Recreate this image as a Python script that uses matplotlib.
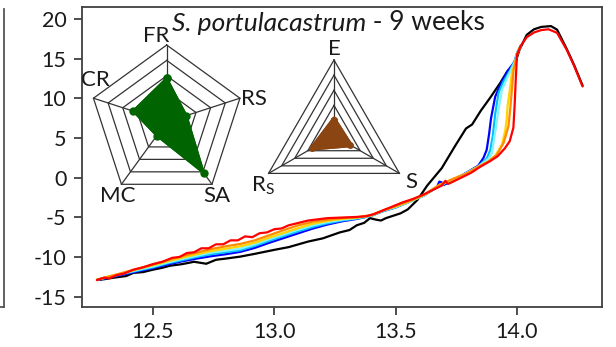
import matplotlib
matplotlib.use('Agg')
import matplotlib.pyplot as plt
import numpy as np
from matplotlib.lines import Line2D

plt.rcParams['font.family'] = ['Lato', 'DejaVu Sans']
plt.rcParams['axes.unicode_minus'] = False
plt.rcParams['mathtext.fontset'] = 'custom'
plt.rcParams['mathtext.rm'] = 'Lato'
plt.rcParams['mathtext.it'] = 'Lato:italic'

# ---------------- data ----------------
black_x = [12.27, 12.30, 12.34, 12.39, 12.42, 12.46, 12.50, 12.54, 12.57, 12.62, 12.67, 12.70, 12.72, 12.74,
           12.76, 12.80, 12.86, 12.92, 13.00, 13.06, 13.14, 13.20, 13.27, 13.31, 13.34, 13.37, 13.395, 13.42,
           13.44, 13.46, 13.48, 13.52, 13.55, 13.59, 13.63, 13.69, 13.745, 13.79, 13.815, 13.85, 13.89, 13.93,
           13.96, 13.99, 14.01, 14.04, 14.07, 14.10, 14.14, 14.165, 14.205, 14.235, 14.27]
black_y = [-12.9, -12.8, -12.6, -12.4, -12.0, -11.9, -11.6, -11.35, -11.1, -10.9, -10.6, -10.75, -10.85, -10.6,
           -10.35, -10.2, -9.95, -9.6, -9.1, -8.75, -8.05, -7.65, -6.9, -6.6, -6.0, -5.7, -5.1, -5.3,
           -5.4, -5.1, -4.9, -4.5, -4.0, -2.8, -1.0, 1.2, 4.0, 6.2, 6.7, 8.4, 10.1, 11.9,
           13.4, 14.2, 16.1, 18.0, 18.7, 19.0, 19.1, 18.65, 16.2, 14.2, 11.6]

blue_x = [12.27, 12.32, 12.38, 12.44, 12.50, 12.56, 12.62, 12.68, 12.74, 12.80, 12.86, 12.92, 12.98, 13.04,
          13.10, 13.16, 13.22, 13.28, 13.34, 13.40, 13.45, 13.50, 13.56, 13.62, 13.67, 13.68, 13.69, 13.70,
          13.74, 13.79, 13.84, 13.862, 13.875, 13.885, 13.893, 13.91, 13.93, 13.96, 13.99, 14.0, 14.015]
blue_y = [-12.9, -12.6, -12.2, -11.8, -11.4, -10.95, -10.55, -10.2, -9.9, -9.65, -9.35, -8.85, -8.2, -7.6,
          -7.0, -6.4, -5.9, -5.5, -5.2, -4.8, -4.2, -3.75, -3.0, -2.2, -1.2, -0.5, -0.6, -0.9,
          -0.3, 0.6, 1.5, 2.5, 3.5, 5.5, 7.5, 10.2, 11.6, 13.4, 14.6, 15.7, 16.6]

cyan_x = [12.27, 12.32, 12.38, 12.44, 12.50, 12.56, 12.62, 12.68, 12.74, 12.80, 12.86, 12.92, 12.98, 13.04,
          13.10, 13.16, 13.22, 13.28, 13.34, 13.40, 13.45, 13.50, 13.56, 13.62, 13.68, 13.74, 13.79, 13.84,
          13.876, 13.89, 13.90, 13.91, 13.924, 13.944, 13.973, 13.993, 14.0, 14.015]
cyan_y = [-12.85, -12.55, -12.1, -11.7, -11.3, -10.8, -10.4, -10.0, -9.65, -9.4, -9.15, -8.6, -7.95, -7.35,
          -6.75, -6.2, -5.75, -5.4, -5.15, -4.8, -4.2, -3.75, -3.0, -2.2, -1.0, -0.2, 0.55, 1.4,
          2.45, 3.5, 5.2, 8.0, 10.7, 12.1, 13.6, 14.9, 15.7, 16.6]

lcyan_x = [12.27, 12.32, 12.38, 12.44, 12.50, 12.56, 12.62, 12.68, 12.74, 12.80, 12.86, 12.92, 12.98, 13.04,
           13.10, 13.16, 13.22, 13.28, 13.34, 13.40, 13.45, 13.50, 13.56, 13.62, 13.68, 13.74, 13.79, 13.84,
           13.883, 13.897, 13.905, 13.914, 13.925, 13.938, 13.964, 13.993, 14.0, 14.015]
lcyan_y = [-12.85, -12.5, -12.05, -11.6, -11.2, -10.7, -10.25, -9.85, -9.45, -9.2, -8.95, -8.4, -7.75, -7.15,
           -6.55, -6.0, -5.6, -5.3, -5.1, -4.8, -4.15, -3.7, -3.0, -2.2, -1.0, -0.2, 0.55, 1.4,
           2.4, 3.1, 4.8, 6.5, 8.8, 11.1, 12.9, 14.7, 15.7, 16.6]

yellow_x = [12.27, 12.32, 12.38, 12.44, 12.50, 12.56, 12.62, 12.68, 12.74, 12.80, 12.86, 12.92, 12.98, 13.04,
            13.10, 13.16, 13.22, 13.28, 13.34, 13.40, 13.45, 13.50, 13.56, 13.62, 13.68, 13.74, 13.79, 13.84,
            13.88, 13.911, 13.938, 13.952, 13.958, 13.961, 13.970, 13.979, 13.993, 14.0, 14.015]
yellow_y = [-12.85, -12.45, -12.0, -11.5, -11.05, -10.55, -10.1, -9.65, -9.25, -8.95, -8.65, -8.2, -7.55, -6.95,
            -6.35, -5.8, -5.45, -5.2, -5.05, -4.75, -4.1, -3.65, -2.95, -2.15, -0.95, -0.15, 0.5, 1.35,
            2.0, 2.8, 4.15, 6.0, 7.5, 9.0, 11.0, 13.2, 14.6, 15.6, 16.6]

orange_x = [12.27, 12.32, 12.38, 12.44, 12.50, 12.56, 12.62, 12.68, 12.74, 12.80, 12.86, 12.92, 12.98, 13.04,
            13.10, 13.16, 13.22, 13.28, 13.34, 13.40, 13.45, 13.50, 13.56, 13.62, 13.68, 13.74, 13.79, 13.84,
            13.88, 13.917, 13.945, 13.965, 13.973, 13.980, 13.986, 13.997, 14.005, 14.015]
orange_y = [-12.85, -12.45, -11.95, -11.45, -10.95, -10.4, -9.9, -9.45, -9.0, -8.65, -8.35, -7.9, -7.25, -6.6,
            -6.0, -5.55, -5.3, -5.1, -5.0, -4.7, -4.1, -3.6, -2.9, -2.1, -0.9, -0.1, 0.5, 1.35,
            2.0, 2.9, 4.4, 6.5, 9.0, 11.5, 13.6, 15.1, 15.9, 16.6]

red_x = [12.27, 12.30, 12.32, 12.35, 12.38, 12.42, 12.46, 12.50, 12.54, 12.58, 12.61, 12.64, 12.67, 12.70,
         12.73, 12.76, 12.79, 12.82, 12.85, 12.88, 12.91, 12.94, 12.97, 13.00, 13.03, 13.06, 13.10, 13.14,
         13.18, 13.22, 13.26, 13.30, 13.34, 13.38, 13.41, 13.45, 13.49, 13.53, 13.57, 13.61, 13.65, 13.69,
         13.705, 13.715, 13.73, 13.77, 13.81, 13.85, 13.89, 13.92, 13.95, 13.97, 13.985, 13.99, 13.995,
         14.0, 14.015, 14.04, 14.07, 14.10, 14.13, 14.165, 14.205, 14.235, 14.27]
red_y = [-12.9, -12.6, -12.7, -12.3, -12.1, -11.6, -11.3, -10.9, -10.6, -10.1, -10.0, -9.5, -9.4, -8.9,
         -8.9, -8.4, -8.4, -7.9, -7.9, -7.4, -7.5, -7.0, -6.9, -6.5, -6.4, -6.0, -5.7, -5.4,
         -5.25, -5.1, -5.05, -5.0, -4.95, -4.85, -4.6, -4.1, -3.6, -3.1, -2.7, -2.2, -1.6, -1.0,
         -0.4, -0.8, -0.6, 0.0, 0.6, 1.4, 2.1, 2.7, 3.7, 4.6, 6.3, 9.0, 12.5,
         15.5, 16.6, 17.7, 18.3, 18.6, 18.7, 18.25, 16.1, 14.1, 11.5]

series_x = [black_x, blue_x, cyan_x, lcyan_x, yellow_x, orange_x, red_x]
series_y = [black_y, blue_y, cyan_y, lcyan_y, yellow_y, orange_y, red_y]
series_colors = ['#000000', '#0000ff', '#00c0ff', '#7ff5ff', '#ffd400', '#ff8c00', '#ff0000']

x_ticks = [12.5, 13.0, 13.5, 14.0]
x_ticklabels = ['12.5', '13.0', '13.5', '14.0']
y_ticks = [-15, -10, -5, 0, 5, 10, 15, 20]

pent_labels = ['FR', 'RS', 'SA', 'MC', 'CR']
pent_values = [0.57, 0.27, 0.82, 0.22, 0.46]
tri_labels = ['E', 'S', r'R$_\mathrm{S}$']
tri_values = [0.21, 0.245, 0.33]

# ---------------- figure ----------------
W, H = 616, 347
fig = plt.figure(figsize=(W / 100, H / 100), dpi=100)
ax = fig.add_axes([81.7 / W, 1 - 307 / H, (602 - 81.7) / W, (307 - 7.3) / H])

for xs, ys, c in zip(series_x, series_y, series_colors):
    ax.plot(xs, ys, color=c, lw=1.6, solid_joinstyle='round', solid_capstyle='round')

ax.set_xlim(12.207, 14.35)
ax.set_ylim(-16.3, 21.47)
ax.set_xticks(x_ticks)
ax.set_xticklabels(x_ticklabels)
ax.set_yticks(y_ticks)
ax.set_yticklabels([str(v) for v in y_ticks])
spine_c = '#404040'
for s in ax.spines.values():
    s.set_color(spine_c)
    s.set_linewidth(1.3)
ax.tick_params(axis='both', direction='out', length=6, width=1.3, color=spine_c,
               labelsize=15.5, labelcolor='#1a1a1a')
ax.tick_params(axis='y', pad=5)
ax.tick_params(axis='x', pad=5)

# partial neighbouring panel at left edge
fig.add_artist(Line2D([3.5 / W, 3.5 / W], [1 - 9 / H, 1 - 307 / H], transform=fig.transFigure,
                      color='#555555', lw=1.3))
fig.add_artist(Line2D([0, 3.5 / W], [1 - 307 / H, 1 - 307 / H], transform=fig.transFigure,
                      color='#555555', lw=1.3))

# title
t1 = fig.text(172 / W, 1 - 31 / H, 'S. portulacastrum', style='italic', fontsize=19,
              va='baseline', ha='left', color='#1a1a1a')
ax.annotate(' - 9 weeks', xy=(1, 0), xycoords=t1, va='bottom', ha='left', fontsize=19,
            color='#1a1a1a')


def inset(cx, cy, half=125):
    a = fig.add_axes([(cx - half) / W, 1 - (cy + half) / H, 2 * half / W, 2 * half / H])
    a.set_xlim(-half, half)
    a.set_ylim(-half, half)
    a.axis('off')
    a.patch.set_alpha(0)
    return a


def radar(a, n, R, values, labels, label_pos, color, lw, ms):
    ang = np.pi / 2 - 2 * np.pi * np.arange(n) / n
    for k in range(1, 6):
        r = R * k / 5
        a.plot(np.append(r * np.cos(ang), r * np.cos(ang[0])),
               np.append(r * np.sin(ang), r * np.sin(ang[0])), color='#333333', lw=0.9, zorder=1)
    for t in ang:
        a.plot([0, R * np.cos(t)], [0, R * np.sin(t)], color='#333333', lw=0.9, zorder=1)
    v = np.array(values) * R
    px = v * np.cos(ang)
    py = v * np.sin(ang)
    a.fill(px, py, color=color, lw=lw, joinstyle='round', zorder=3)
    a.plot(np.append(px, px[0]), np.append(py, py[0]), color=color, lw=lw,
           solid_joinstyle='round', marker='o', ms=ms, zorder=4)
    for lab, (lx, ly) in zip(labels, label_pos):
        a.text(lx, ly, lab, ha='center', va='center', fontsize=16, color='#1a1a1a')


pa = inset(166.7, 122)
radar(pa, 5, 77, pent_values, pent_labels,
      [(-11, 86), (87, 23), (50, -74), (-49, -74), (-71, 42)], '#006400', 1.5, 5)

ta = inset(334, 135.6)
radar(ta, 3, 75.6, tri_values, tri_labels,
      [(0, 86.5), (77, -46), (-71, -50)], '#8b4513', 3.5, 4)

fig.savefig('out.png', dpi=100)
